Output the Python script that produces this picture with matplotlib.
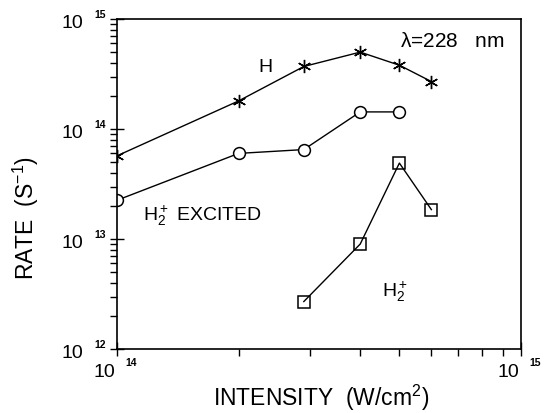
import matplotlib
matplotlib.use("Agg")
import matplotlib.pyplot as plt
import matplotlib.transforms as mtransforms
from matplotlib.ticker import LogLocator, NullFormatter

plt.rcParams['font.family'] = ['Liberation Sans', 'DejaVu Sans']
plt.rcParams['mathtext.default'] = 'regular'

# intensities (W/cm^2) and rates (s^-1)
h_x = [1.0e14, 2.0e14, 2.9e14, 4.0e14, 5.0e14, 6.0e14]
h_y = [5.7e13, 1.8e14, 3.7e14, 5.0e14, 3.8e14, 2.7e14]

exc_x = [1.0e14, 2.0e14, 2.9e14, 4.0e14, 5.0e14]
exc_y = [2.25e13, 6.0e13, 6.5e13, 1.43e14, 1.43e14]

ion_x = [2.9e14, 4.0e14, 5.0e14, 6.0e14]
ion_y = [2.7e12, 9.0e12, 4.9e13, 1.85e13]

xticks = [1e14, 1e15]
xtick_exp = ['14', '15']
yticks = [1e12, 1e13, 1e14, 1e15]
ytick_exp = ['12', '13', '14', '15']

fig = plt.figure(figsize=(5.44, 4.14), dpi=100)
ax = fig.add_axes([0.2151, 0.1546, 0.7426, 0.7971])

ax.plot(h_x, h_y, '-', color='black', lw=1.0,
        marker=(6, 2, 0), ms=9.5, mew=1.0)
ax.plot(exc_x, exc_y, '-', color='black', lw=1.0,
        marker='o', ms=8.5, mfc='white', mec='black', mew=1.1)
ax.plot(ion_x, ion_y, '-', color='black', lw=1.0,
        marker='s', ms=8, mfc='none', mec='black', mew=1.1)

ax.set_xscale('log')
ax.set_yscale('log')
ax.set_xlim(1e14, 1e15)
ax.set_ylim(1e12, 1e15)

ax.set_xticks(xticks)
ax.set_yticks(yticks)
ax.xaxis.set_minor_locator(LogLocator(base=10, subs=range(2, 10)))
ax.yaxis.set_minor_locator(LogLocator(base=10, subs=range(2, 10)))
ax.xaxis.set_major_formatter(NullFormatter())
ax.yaxis.set_major_formatter(NullFormatter())
ax.xaxis.set_minor_formatter(NullFormatter())
ax.yaxis.set_minor_formatter(NullFormatter())

ax.tick_params(which='major', direction='inout', length=10, width=1,
               top=False, right=False)
ax.tick_params(which='minor', direction='out', length=5, width=1,
               top=False, right=False)
for s in ax.spines.values():
    s.set_linewidth(1.2)

# tick labels drawn as "10" plus a small bold exponent, like the original
def shifted(trans, dx, dy):
    return mtransforms.offset_copy(trans, fig=fig, x=dx, y=dy, units='dots')

ytrans = ax.get_yaxis_transform()
for v, e in zip(yticks, ytick_exp):
    ax.text(0, v, '10', transform=shifted(ytrans, -34, -8),
            ha='right', va='baseline', fontsize=14, clip_on=False)
    ax.text(0, v, e, transform=shifted(ytrans, -11, 2),
            ha='right', va='baseline', fontsize=7.5, fontweight='bold',
            clip_on=False)

xtrans = ax.get_xaxis_transform()
for v, e in zip(xticks, xtick_exp):
    ax.text(v, 0, '10', transform=shifted(xtrans, -2, -27),
            ha='right', va='baseline', fontsize=14, clip_on=False)
    ax.text(v, 0, e, transform=shifted(xtrans, 8, -16),
            ha='left', va='baseline', fontsize=7.5, fontweight='bold',
            clip_on=False)

fig.text(0.590, 0.0386, r'INTENSITY  (W/cm$^2$)', fontsize=16.5,
         ha='center', va='center')
fig.text(0.047, 0.473, r'RATE  (S$^{-1}$)', fontsize=16.5,
         ha='center', va='center', rotation=90)

ax.text(0.70, 0.936, r'$\lambda$=228   nm', transform=ax.transAxes,
        fontsize=15, va='center', ha='left')
ax.text(0.368, 0.855, 'H', transform=ax.transAxes,
        fontsize=14, va='center', ha='center')
ax.text(0.064, 0.406, r'H$_2^+$ EXCITED', transform=ax.transAxes,
        fontsize=14, va='center', ha='left')
ax.text(0.657, 0.176, r'H$_2^+$', transform=ax.transAxes,
        fontsize=14, va='center', ha='left')

fig.savefig('out.png', dpi=100)
